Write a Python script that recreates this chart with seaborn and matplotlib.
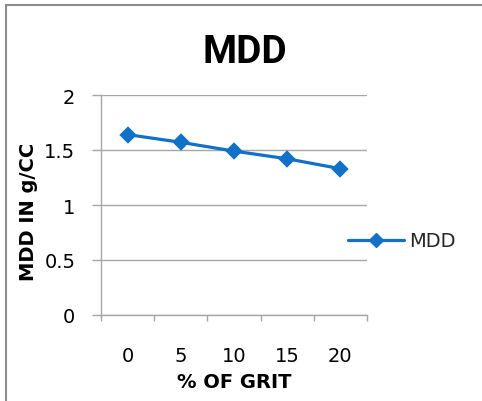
import matplotlib
matplotlib.use("Agg")
import matplotlib.pyplot as plt
import seaborn as sns
import pandas as pd
from matplotlib.patches import Rectangle
from matplotlib.lines import Line2D

grit = ["0", "5", "10", "15", "20"]
mdd = [1.64, 1.57, 1.49, 1.42, 1.33]
yticks = [0, 0.5, 1, 1.5, 2]
ytick_labels = ["0", "0.5", "1", "1.5", "2"]

sns.set_theme(style="white")
plt.rcParams['font.family'] = ['DejaVu Sans']

LINE = '#1170C8'
GRID = '#A6A6A6'

df = pd.DataFrame({"grit": grit, "mdd": mdd})

fig = plt.figure(figsize=(4.82, 4.02), dpi=100)
ax = fig.add_axes([101/482, 86/402, 266/482, 220/402])

sns.pointplot(data=df, x="grit", y="mdd", order=grit, ax=ax, color=LINE,
              marker="D", markersize=7.5, linewidth=2.3, errorbar=None)

ax.set_xlim(-0.5, len(grit) - 0.5)
ax.set_ylim(0, 2)
ax.set_yticks(yticks)
ax.set_yticklabels(ytick_labels)
ax.set_xticks(range(len(grit)))
ax.set_xticklabels(grit)
ax.set_xticks([i - 0.5 for i in range(len(grit) + 1)], minor=True)

ax.grid(axis='y', color=GRID, linewidth=1)
ax.grid(axis='x', visible=False)
ax.set_axisbelow(True)
for s in ['top', 'right']:
    ax.spines[s].set_visible(False)
for s in ['left', 'bottom']:
    ax.spines[s].set_color(GRID)
    ax.spines[s].set_linewidth(1)

ax.tick_params(axis='y', which='major', length=6.5, width=1, color=GRID,
               labelsize=14, pad=12, left=True, labelcolor='black')
ax.tick_params(axis='x', which='major', length=0, labelsize=14, pad=22,
               labelcolor='black')
ax.tick_params(axis='x', which='minor', length=4.5, width=1, color=GRID,
               bottom=True)

ax.set_xlabel("% OF GRIT", fontsize=14, fontweight='bold', color='black')
ax.xaxis.set_label_coords(0.5, -0.259)
ax.set_ylabel("MDD IN g/CC", fontsize=14, fontweight='bold', color='black')
ax.yaxis.set_label_coords(-0.237, 0.475)

fig.text(245/482, 1 - 63/402, "MDD", fontsize=28, fontweight='bold',
         family=['Roboto', 'DejaVu Sans'],
         ha='center', va='baseline', color='black')

handle = Line2D([], [], color=LINE, marker='D', markersize=7.5, linewidth=2.3)
fig.legend([handle], ["MDD"], loc='center left',
           bbox_to_anchor=(348/482, 1 - 242/402), frameon=False,
           borderpad=0, borderaxespad=0, handlelength=2.9,
           handletextpad=0.25, fontsize=14)

fig.add_artist(Rectangle((6/482, -0.5), 2, 0.5 + 1 - 6/402,
                         transform=fig.transFigure, fill=False,
                         edgecolor='#8C8C8C', linewidth=1.5, clip_on=False))

fig.savefig("out.png", dpi=100)
